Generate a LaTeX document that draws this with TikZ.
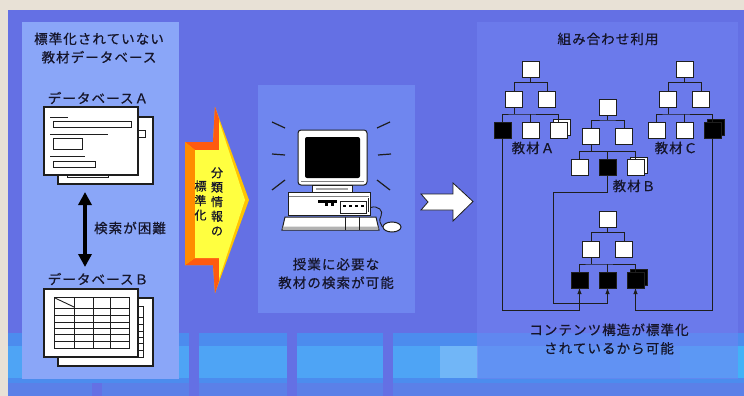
\documentclass[tikz,border=0pt]{standalone}
\usepackage{fontspec}
\setmainfont{Noto Sans CJK JP}[LetterSpace=8, FakeBold=0.6]
\usetikzlibrary{arrows.meta,shadows,shapes.geometric}
\definecolor{beige}{HTML}{E8E1D6}
\definecolor{bgblue}{HTML}{6470E4}
\definecolor{lpanelc}{HTML}{8AA6F8}
\definecolor{mpanelc}{HTML}{6F86EF}
\definecolor{rpanelc}{HTML}{7284F2}
\definecolor{bandA}{HTML}{4C8CEE}
\definecolor{bandB}{HTML}{4EA4F5}
\definecolor{bandC}{HTML}{5B80E8}
\definecolor{txt}{HTML}{15152A}
\definecolor{ink}{HTML}{1E1E1E}
\definecolor{arrRed}{HTML}{FF5A10}
\definecolor{arrOrange}{HTML}{FF8C00}
\definecolor{arrGold}{HTML}{FFC400}
\definecolor{arrYellow}{HTML}{FFFF40}

% one tree of content boxes: prefix, root x, root y, styles of the three leaves
\newcommand\mktree[6]{%
  \node[tbox] (#1-r) at (#2,#3) {};
  \node[tbox] (#1-l) at ({#2-16.5},{#3+29.5}) {};
  \node[tbox] (#1-m) at ({#2+16.5},{#3+29.5}) {};
  \node[#4] (#1-a) at ({#2-28},{#3+60.5}) {};
  \node[#5] (#1-b) at (#2,{#3+60.5}) {};
  \node[#6] (#1-c) at ({#2+28},{#3+60.5}) {};
  \draw[tline] (#1-r.south) -- ++(0,5) coordinate (#1-j1);
  \draw[tline] (#1-l.north) |- (#1-j1) -| (#1-m.north);
  \draw[tline] (#1-l.south) -- ++(0,7) coordinate (#1-j2);
  \draw[tline] (#1-a.north) |- (#1-j2) -| (#1-c.north);
  \draw[tline] (#1-b.north) -- (#1-b.north |- #1-j2);
}

\begin{document}
\begin{tikzpicture}[x=1pt,y=-1pt,
  lbl/.style={font=\fontsize{13.5}{18.5}\selectfont, text=txt, align=center, inner sep=0pt},
  vlbl/.style={font=\fontsize{12}{14.5}\selectfont, text=txt, align=center, inner sep=0pt},
  tbox/.style={draw=ink, fill=white, line width=0.9pt, minimum width=17pt, minimum height=16pt, inner sep=0pt, outer sep=0pt},
  bbox/.style={tbox, fill=black},
  sbox/.style={tbox, copy shadow={shadow xshift=3pt, shadow yshift=2.5pt, fill=white, draw=ink}},
  sbbox/.style={tbox, fill=black, copy shadow={shadow xshift=3pt, shadow yshift=2.5pt, fill=black, draw=ink}},
  tline/.style={draw=ink, line width=0.9pt},
  arr/.style={tline, -{Latex[length=6pt,width=4.5pt]}},
  page/.style={draw=ink, fill=white, line width=1.1pt, inner sep=0pt, outer sep=0pt},
  pgline/.style={draw=ink, line width=0.9pt},
  ray/.style={draw=ink, line width=1.2pt},
]
\useasboundingbox (0,0) rectangle (744,396);

% backdrop
\fill[beige] (0,0) rectangle (744,396);
\fill[bgblue] (8,10) rectangle (744,396);

% decorative band along the bottom
\fill[bandA] (8,333) rectangle (744,383);
\fill[bandB] (8,346) rectangle (744,378);
\fill[bandC] (8,383) rectangle (744,396);
\fill[bandB!80!white] (440,346) rectangle (478,378);
\fill[bandB!85!cyan] (680,346) rectangle (744,378);
\foreach \a in {189,287,383} \fill[bgblue] (\a,333) rectangle ({\a+10},396);
\fill[bgblue] (92,383) rectangle (102,396);

% panels
\fill[lpanelc] (22,22) rectangle (179,379);
\fill[mpanelc] (258,85) rectangle (415,313);
\fill[rpanelc, fill opacity=0.55] (477,22) rectangle (738,379);

% ---------- left panel: unstandardised databases ----------
\node[lbl] (ltitle) at (99,48) {標準化されていない\\教材データベース};
\node[lbl] (dbAlbl) at (98,98) {データベースＡ};

\node[page, minimum width=95pt, minimum height=67pt] (pgA2) at (105.5,150.5) {};
\draw[pgline] (138,130) rectangle (145,137);
\draw[pgline] (67,170) rectangle (108,177);
\node[page, minimum width=94pt, minimum height=68pt] (pgA) at (91,141) {};
\draw[pgline] (50,117) -- (68,117);
\draw[pgline] (53,121) rectangle (131,127);
\draw[pgline] (50,134) -- (108,134);
\draw[pgline] (53,138) rectangle (82,149);
\draw[pgline] (50,156) -- (85,156);
\draw[pgline] (53,161) rectangle (95,167);

\coordinate (dtop) at (85,192);
\coordinate (dbot) at (85,267);
\draw[draw=black, line width=3.5pt, {Triangle[width=13pt,length=13pt]}-{Triangle[width=13pt,length=13pt]}] (dtop) -- (dbot);
\node[lbl] (hard) at (130,228) {検索が困難};

\node[lbl] (dbBlbl) at (98,279) {データベースＢ};
\node[page, minimum width=95pt, minimum height=68pt] (pgB2) at (105.5,332) {};
\begin{scope}[shift={(14,9)}]
  \draw[pgline] (54,297) rectangle (129,348);
  \foreach \yy in {308,315,322,328,334,341} \draw[pgline] (54,\yy) -- (129,\yy);
\end{scope}
\node[page, minimum width=94pt, minimum height=68pt] (pgB) at (91,323) {};
\draw[pgline] (54,297) rectangle (129,348);
\foreach \xx in {74,93,110} \draw[pgline] (\xx,297) -- (\xx,348);
\foreach \yy in {308,315,322,328,334,341} \draw[pgline] (54,\yy) -- (129,\yy);
\draw[pgline] (55,298) -- (74,307);

% ---------- classification arrow ----------
\fill[arrGold] (185,142) -- (213,142) -- (215,107) -- (249,200) -- (215,293) -- (213,265) -- (185,265) -- cycle;
\fill[arrRed] (185,142) -- (213,142) -- (215,107) -- (219,119) -- (219,150) -- (195,150) -- cycle;
\fill[arrRed] (185,265) -- (213,265) -- (215,293) -- (219,281) -- (219,258) -- (195,258) -- cycle;
\fill[arrOrange] (185,142) -- (195,150) -- (195,258) -- (185,265) -- cycle;
\fill[arrYellow] (195,150) -- (219,150) -- (219,121) -- (245,200) -- (219,279) -- (219,258) -- (195,258) -- cycle;
\node[vlbl] (cls1) at (217,201.5) {分\\類\\情\\報\\の};
\node[vlbl] (cls2) at (200.5,200.5) {標\\準\\化};

% ---------- middle panel: a desktop computer ----------
\draw[ray] (272,122) -- (285,128);
\draw[ray] (272,154) -- (285,155);
\draw[ray] (272,190) -- (285,180);
\draw[ray] (377,128) -- (390,122);
\draw[ray] (378,155) -- (391,154);
\draw[ray] (377,180) -- (390,190);

\node[draw=ink, fill=white, rounded corners=3pt, line width=1pt, minimum width=69pt, minimum height=55pt, inner sep=0pt] (mon) at (332.5,157.5) {};
\fill[black, rounded corners=2pt] (305,137) rectangle (360,178);
\draw[gray, line width=0.8pt] (301,181.5) -- (364,181.5);
\draw[draw=ink, fill=white, line width=1pt] (312,185) rectangle (352,192);
\fill[gray!70] (316,188) rectangle (348,190);
\node[draw=ink, fill=white, line width=1pt, minimum width=82pt, minimum height=23pt, inner sep=0pt] (cpu) at (329,203.5) {};
\draw[gray, line width=0.7pt] (289,196) -- (369,196);
\fill[black] (318,200) rectangle (337,203);
\fill[black] (325,203) rectangle (328,206);
\fill[black] (331,203) rectangle (334,206);
\draw[draw=ink, line width=0.9pt] (340,201) rectangle (366,213);
\foreach \i in {0,1,2,3} \fill[black] ({343+\i*6},205) rectangle ({346+\i*6},207);
\draw[draw=ink, line width=0.8pt] (368,198) -- (368,212);
\draw[draw=ink, fill=white, line width=1pt] (285,217) -- (376,217) -- (379,230) -- (282,230) -- cycle;
\fill[gray!60] (283,226.5) -- (378,226.5) -- (378.6,229) -- (282.4,229) -- cycle;
\draw[draw=ink, line width=0.9pt] (345,217) -- (345,230);
\draw[draw=ink, line width=0.9pt] (359,217) -- (359,230);
\node[draw=ink, fill=white, ellipse, line width=1pt, minimum width=18pt, minimum height=10pt, inner sep=0pt] (mouse) at (392,227) {};
\draw[draw=ink, line width=0.9pt] (cpu.east) ++(0,4) .. controls (378,205) and (384,211) .. (381,216) .. controls (378,221) and (381,224) .. (mouse.west);

\node[lbl] (mtext) at (336,273.5) {授業に必要な\\教材の検索が可能};

% ---------- white arrow ----------
\draw[draw=ink, fill=white, line width=0.8pt] (421,194) -- (453,194) -- (453,183) -- (473,201.5) -- (453,221) -- (453,210) -- (421,210) -- (428,202) -- cycle;

% ---------- right panel: combined use ----------
\node[lbl] (rtitle) at (608,39) {組み合わせ利用};

\mktree{A}{530.5}{69.5}{bbox}{tbox}{sbox}
\mktree{C}{684.5}{69.5}{tbox}{tbox}{sbbox}
\mktree{B}{607.5}{107}{tbox}{bbox}{sbox}
\mktree{D}{607.5}{219.5}{bbox}{bbox}{sbbox}

\node[lbl] (labA) at (533,148) {教材Ａ};
\node[lbl] (labC) at (676,148) {教材Ｃ};
\node[lbl] (labB) at (634,186) {教材Ｂ};

\coordinate (yAC) at (0,310);
\coordinate (bturn) at (553,192);
\coordinate (yB) at (0,303);
\draw[arr] (A-a.south) |- (D-a.south |- yAC) -- (D-a.south);
\draw[arr] (C-c.south) |- (D-c.south |- yAC) -- (D-c.south);
\draw[arr] (B-b.south) |- (bturn) |- (D-b.south |- yB) -- (D-b.south);

\node[lbl] (rtext) at (609,339) {コンテンツ構造が標準化\\されているから可能};
\end{tikzpicture}
\end{document}
